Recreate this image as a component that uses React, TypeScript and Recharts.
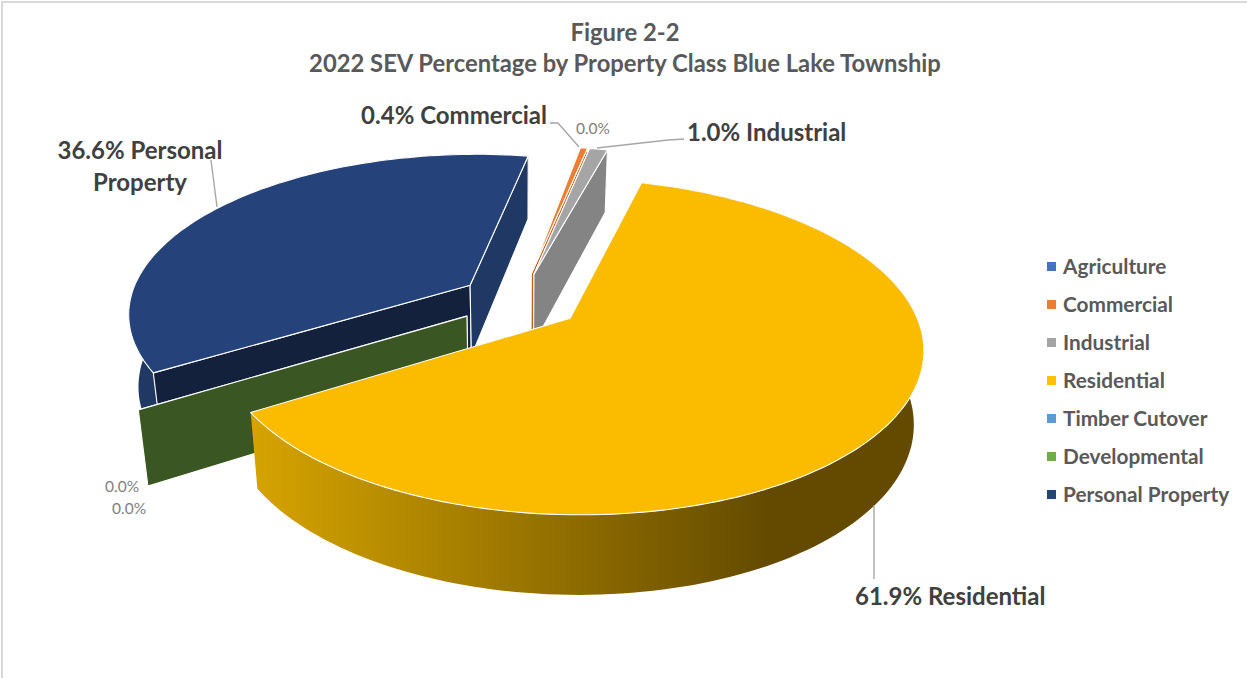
import React from "react";
import { PieChart, Pie, Legend } from "recharts";

const categories = ["Agriculture", "Commercial", "Industrial", "Residential", "Timber Cutover", "Developmental", "Personal Property"];
const shares = [0.0, 0.4, 1.0, 61.9, 0.0, 0.0, 36.6];
const swatches = ["#4472c4", "#ed7d31", "#a5a5a5", "#ffc000", "#5b9bd5", "#70ad47", "#264478"];
const titleLines = ["Figure 2-2", "2022 SEV Percentage by Property Class Blue Lake Township"];

const tableRows = categories.map((name, i) => ({ name, value: shares[i], fill: swatches[i] }));

// back-to-front painting order of the exploded slices
const paintLayers = [
  ["Personal Property"],
  ["Agriculture", "Commercial", "Industrial"],
  ["Timber Cutover", "Developmental"],
  ["Residential"],
];

const SCENE = { perspective: 0.166, tilt: 0.462, explode: 0.18, shrink: 0.975 };
const FIRST_ANGLE = 79.8;
const FONT = "Lato, 'Open Sans', sans-serif";

const FACES: Record<string, { top: string; startCut: string; endCut: string; outer: string }> = {
  Agriculture: { top: "#4472c4", startCut: "#2f5597", endCut: "#2f5597", outer: "#2f5597" },
  Commercial: { top: "#ed7d31", startCut: "#c55a11", endCut: "#c55a11", outer: "#c55a11" },
  Industrial: { top: "#a5a5a5", startCut: "#848484", endCut: "#848484", outer: "#848484" },
  Residential: { top: "#fbbc00", startCut: "#7f6000", endCut: "#7f6000", outer: "url(#wallFade)" },
  "Timber Cutover": { top: "#5b9bd5", startCut: "#3a5723", endCut: "#3a5723", outer: "#3a5723" },
  Developmental: { top: "#70ad47", startCut: "#3a5723", endCut: "#3a5723", outer: "#3a5723" },
  "Personal Property": { top: "#25437a", startCut: "#14213d", endCut: "#1f3864", outer: "#1f3864" },
};

type Pt = { x: number; y: number };
const rad = (d: number) => (d * Math.PI) / 180;

function makeProjector(cx: number, cy: number, R: number) {
  const top = (X: number, Y: number) => {
    const w = 1 + SCENE.perspective * Y;
    return { x: cx + (R * X) / w, y: cy - (R * SCENE.tilt * Y) / w, w };
  };
  const bottom = (X: number, Y: number): Pt => {
    const p = top(X, Y);
    return { x: cx + (p.x - cx) * SCENE.shrink, y: p.y + 80 - (p.w - 0.817) * 46.8 };
  };
  return { top, bottom };
}

const toPath = (pts: Pt[]) =>
  pts.map((p, i) => `${i ? "L" : "M"}${p.x.toFixed(1)} ${p.y.toFixed(1)}`).join(" ") + " Z";

function Slice3D(props: any) {
  const { cx, cy, outerRadius, startAngle, endAngle, name } = props;
  const face = FACES[name];
  const proj = makeProjector(cx, cy, outerRadius);
  const mid = rad((startAngle + endAngle) / 2);
  const ox = SCENE.explode * Math.cos(mid);
  const oy = SCENE.explode * Math.sin(mid);
  const span = Math.abs(endAngle - startAngle);
  const n = Math.max(2, Math.ceil(span / 1.5));
  const unit: [number, number][] = [];
  for (let i = 0; i <= n; i++) {
    const a = rad(startAngle + ((endAngle - startAngle) * i) / n);
    unit.push([Math.cos(a) + ox, Math.sin(a) + oy]);
  }
  const topRim = unit.map(([X, Y]) => proj.top(X, Y));
  const botRim = unit.map(([X, Y]) => proj.bottom(X, Y));
  const apexT = proj.top(ox, oy);
  const apexB = proj.bottom(ox, oy);
  const stroke = { stroke: "#ffffff", strokeWidth: 1.1, strokeLinejoin: "round" as const };
  return (
    <g>
      <defs>
        <linearGradient id="wallFade" gradientUnits="userSpaceOnUse" x1="250" y1="0" x2="770" y2="0">
          <stop offset="0" stopColor="#d6a400" />
          <stop offset="1" stopColor="#634a00" />
        </linearGradient>
      </defs>
      {span > 0 && (
        <path d={toPath([...topRim, ...botRim.slice().reverse()])} fill={face.outer} stroke="none" />
      )}
      {span > 0 && name !== "Residential" && (
        <path d={toPath([apexT, topRim[0], botRim[0], apexB])} fill={face.startCut} {...stroke} />
      )}
      {name !== "Residential" && (
        <path d={toPath([apexT, topRim[n], botRim[n], apexB])} fill={face.endCut} {...stroke} />
      )}
      {span > 0 && <path d={toPath([apexT, ...topRim])} fill={face.top} {...stroke} />}
    </g>
  );
}

const LABELS: Record<string, { lines: string[]; x: number; y: number[]; anchor: any; small?: boolean; lead?: number[][] }> = {
  Agriculture: { lines: ["0.0%"], x: 593, y: [134], anchor: "middle", small: true },
  Commercial: { lines: ["{v} Commercial"], x: 547, y: [124], anchor: "end", lead: [[550, 123], [558, 123], [579, 147]] },
  Industrial: { lines: ["{v} Industrial"], x: 687, y: [141], anchor: "start", lead: [[684, 139], [668, 140], [597, 148]] },
  Residential: { lines: ["{v} Residential"], x: 855, y: [605], anchor: "start", lead: [[874, 505], [874, 579]] },
  "Timber Cutover": { lines: ["0.0%"], x: 105, y: [492], anchor: "start", small: true },
  Developmental: { lines: ["0.0%"], x: 112, y: [514], anchor: "start", small: true },
  "Personal Property": { lines: ["{v} Personal", "Property"], x: 140, y: [159, 191], anchor: "middle", lead: [[211, 160], [217, 207]] },
};

function renderLabel(props: any) {
  const spec = LABELS[props.name];
  if (!spec) return <g />;
  const v = `${Number(props.value).toFixed(1)}%`;
  return (
    <g>
      {spec.lead && (
        <polyline points={spec.lead.map((p) => p.join(",")).join(" ")} fill="none" stroke="#a6a6a6" strokeWidth={1.4} />
      )}
      {spec.lines.map((line, i) => (
        <text
          key={i}
          x={spec.x}
          y={spec.y[i]}
          textAnchor={spec.anchor}
          fontFamily={FONT}
          fontSize={spec.small ? 15.5 : 24}
          fontWeight={spec.small ? 400 : 700}
          fill={spec.small ? "#7f7f7f" : "#404040"}
        >
          {line.replace("{v}", v)}
        </text>
      ))}
    </g>
  );
}

function LegendList() {
  return (
    <div style={{ fontFamily: FONT }}>
      {tableRows.map((e) => (
        <div key={e.name} style={{ height: 38, display: "flex", alignItems: "center", whiteSpace: "nowrap" }}>
          <span style={{ width: 9, height: 9, background: e.fill, marginRight: 7, display: "inline-block" }} />
          <span style={{ fontSize: 20.8, fontWeight: 700, color: "#595959", lineHeight: "38px" }}>{e.name}</span>
        </div>
      ))}
    </div>
  );
}

export default function App() {
  return (
    <div style={{ position: "absolute", left: 0, top: 0, width: 1247, height: 678, background: "#fff", overflow: "hidden" }}>
      <div style={{ position: "absolute", left: 1, top: 1, right: 0, bottom: 0, borderLeft: "2px solid #d9d9d9", borderTop: "2px solid #d9d9d9" }} />
      <PieChart width={1247} height={678} margin={{ top: 0, right: 0, bottom: 0, left: 0 }} style={{ position: "absolute", left: 0, top: 0 }}>
        {titleLines.map((t, i) => (
          <text key={t} x={625} y={41 + i * 31} textAnchor="middle" fontFamily={FONT} fontSize={23.8} fontWeight={700} fill="#595959">
            {t}
          </text>
        ))}
        {paintLayers.map((layer, li) => (
          <Pie
            key={li}
            data={tableRows}
            dataKey="value"
            nameKey="name"
            cx={520}
            cy={301}
            outerRadius={341}
            startAngle={FIRST_ANGLE}
            endAngle={FIRST_ANGLE - 360}
            stroke="none"
            isAnimationActive={false}
            legendType={li === paintLayers.length - 1 ? "square" : "none"}
            labelLine={false}
            label={li === paintLayers.length - 1 ? renderLabel : false}
            shape={(p: any) => (layer.includes(p.name) ? <Slice3D {...p} /> : <g />)}
          />
        ))}
        <Legend
          layout="vertical"
          align="right"
          verticalAlign="top"
          content={<LegendList />}
          wrapperStyle={{ position: "absolute", left: 1047, top: 247, width: 200, right: "auto", bottom: "auto" }}
        />
      </PieChart>
    </div>
  );
}
